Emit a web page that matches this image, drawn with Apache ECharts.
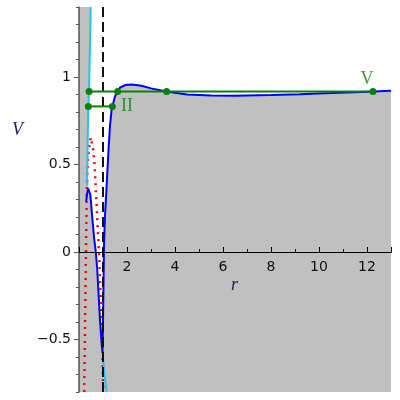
<!DOCTYPE html>
<html>
<head>
<meta charset="utf-8">
<script src="https://cdn.jsdelivr.net/npm/echarts@6/dist/echarts.min.js"></script>
<style>
  html, body { margin: 0; padding: 0; background: #fff; }
  #chart { width: 400px; height: 400px; }
</style>
</head>
<body>
<div id="chart"></div>
<script>
// effective potential, blue curve: hump near r=0.4, well at r~1, then plateau
const blueCurve = [
  [0.30, 0.29], [0.34, 0.335], [0.38, 0.362], [0.42, 0.37], [0.47, 0.33],
  [0.55, 0.20], [0.63, 0.08], [0.70, 0.0], [0.76, -0.10], [0.82, -0.25],
  [0.88, -0.40], [0.94, -0.52], [0.98, -0.57],
  [1.00, -0.40], [1.02, -0.20], [1.04, 0.03], [1.08, 0.20], [1.15, 0.375],
  [1.22, 0.56], [1.29, 0.72], [1.36, 0.815], [1.50, 0.89], [1.71, 0.94],
  [1.92, 0.954], [2.20, 0.957], [2.60, 0.95], [3.00, 0.935], [3.65, 0.917],
  [4.50, 0.900], [5.50, 0.894], [6.50, 0.893], [8.00, 0.897], [9.20, 0.902],
  [10.50, 0.908], [11.50, 0.913], [12.25, 0.917], [13.00, 0.921]
];
const blueWellStart = 3; // index of hump top, where the white region starts

const cyanUpper = [
  [0.49, 1.40], [0.46, 1.20], [0.43, 1.00], [0.42, 0.917], [0.39, 0.832],
  [0.37, 0.70], [0.355, 0.55], [0.345, 0.45], [0.34, 0.38]
];
const cyanLower = [[0.99, -0.59], [1.06, -0.70], [1.15, -0.80]];

const redDotted = [
  [0.22, -0.80], [0.23, -0.65], [0.245, -0.50], [0.26, -0.30], [0.28, -0.10],
  [0.30, 0.10], [0.32, 0.30], [0.33, 0.37], [0.345, 0.44], [0.355, 0.48],
  [0.375, 0.525], [0.40, 0.57], [0.43, 0.61], [0.49, 0.655], [0.55, 0.615],
  [0.60, 0.576], [0.625, 0.533], [0.65, 0.494], [0.67, 0.44], [0.695, 0.375],
  [0.71, 0.33], [0.78, 0.14], [0.85, -0.06], [0.90, -0.25], [0.94, -0.42],
  [0.98, -0.60], [1.01, -0.80]
];

const horizon = [[1, -0.8], [1, 1.4]];
const levelV = [[0.42, 0.917], [1.61, 0.917], [3.65, 0.917], [12.25, 0.917]];
const levelII = [[0.39, 0.832], [1.39, 0.832]];
const levelLabels = [
  { name: 'II', value: [2.0, 0.834] },
  { name: 'V', value: [12.0, 0.986] }
];

const rMin = 0, rMax = 13;
const vMin = -0.8, vMax = 1.4;
const yMajor = [-0.5, 0, 0.5, 1];

// white (allowed) region: right of cyan/blue left wall, above blue curve
const whiteRegion = [
  ...cyanUpper,
  ...blueCurve.slice(blueWellStart),
  [rMax, vMax]
];

const gridTop = 7, gridBottom = 8;
const plotH = 400 - gridTop - gridBottom;
// lift the r axis from the grid bottom up to V = 0
const zeroOffset = -plotH * (0 - vMin) / (vMax - vMin);

const chart = echarts.init(document.getElementById('chart'));
const green = '#0a820a';
const tickFont = { fontFamily: 'DejaVu Sans', fontSize: 14, color: '#111' };
const nameFont = 'italic 18px "Liberation Serif"';

chart.setOption({
  animation: false,
  grid: {
    show: true, left: 79, right: 9, top: gridTop, bottom: gridBottom,
    outerBoundsMode: 'none', containLabel: false,
    backgroundColor: '#c0c0c0', borderWidth: 0
  },
  xAxis: [
    {
      type: 'value', min: rMin, max: rMax, interval: 1, z: 5,
      position: 'bottom', offset: zeroOffset,
      axisLine: { onZero: false, lineStyle: { color: '#000', width: 1 } },
      axisTick: { inside: true, length: 3, lineStyle: { color: '#000' } },
      axisLabel: {
        ...tickFont, margin: 8,
        formatter: (v) => (v !== 0 && v % 2 === 0 ? String(v) : '')
      },
      splitLine: { show: false }
    },
    {
      type: 'value', min: rMin, max: rMax, interval: 2, z: 5,
      position: 'bottom', offset: zeroOffset,
      axisLine: { onZero: false, lineStyle: { color: '#000' } },
      axisTick: { inside: true, length: 5, lineStyle: { color: '#000' } },
      axisLabel: { show: false },
      splitLine: { show: false }
    }
  ],
  yAxis: [
    {
      type: 'value', min: vMin, max: vMax, z: 5,
      axisLine: { onZero: false, lineStyle: { color: '#555', width: 1.5 } },
      axisTick: { customValues: yMajor, length: 5, lineStyle: { color: '#555' } },
      axisLabel: {
        ...tickFont, margin: 8, customValues: yMajor,
        formatter: (v) => (v < 0 ? '\u2212' + Math.abs(v) : String(v))
      },
      splitLine: { show: false }
    },
    {
      type: 'value', min: vMin, max: vMax, interval: 0.1, position: 'left', z: 5,
      axisLine: { show: false, onZero: false },
      axisTick: { length: 3, lineStyle: { color: '#555' } },
      axisLabel: { show: false },
      splitLine: { show: false }
    }
  ],
  graphic: [
    {
      type: 'text', left: 12, top: 121,
      style: { text: 'V', font: nameFont, fill: '#1a1a6a' }
    },
    {
      type: 'text', left: 231, top: 276,
      style: { text: 'r', font: nameFont, fill: '#1a1a6a' }
    }
  ],
  series: [
    {
      type: 'custom', silent: true, z: 1,
      data: [[0, 0]],
      renderItem: (params, api) => ({
        type: 'polygon',
        shape: { points: whiteRegion.map((p) => api.coord(p)) },
        style: { fill: '#fff' }
      })
    },
    {
      type: 'line', data: redDotted, showSymbol: false, symbol: 'none', z: 3,
      lineStyle: { color: '#ff0000', width: 2.5, type: [2, 5], cap: 'butt' }
    },
    {
      type: 'line', data: blueCurve, showSymbol: false, symbol: 'none', z: 4,
      lineStyle: { color: '#0000ff', width: 2 }
    },
    {
      type: 'line', data: cyanUpper, showSymbol: false, symbol: 'none', z: 4,
      lineStyle: { color: '#22c4f2', width: 2 }
    },
    {
      type: 'line', data: cyanLower, showSymbol: false, symbol: 'none', z: 4,
      lineStyle: { color: '#22c4f2', width: 2 }
    },
    {
      type: 'line', data: horizon, showSymbol: false, symbol: 'none', z: 4,
      lineStyle: { color: '#111', width: 2, type: [10, 5] }
    },
    {
      type: 'line', data: levelV, symbol: 'circle', symbolSize: 7, z: 6,
      lineStyle: { color: green, width: 2 }, itemStyle: { color: green }
    },
    {
      type: 'line', data: levelII, symbol: 'circle', symbolSize: 7, z: 6,
      lineStyle: { color: green, width: 2 }, itemStyle: { color: green }
    },
    {
      type: 'scatter', data: levelLabels, symbolSize: 0, z: 6,
      label: {
        show: true, position: 'inside', formatter: '{b}',
        fontFamily: 'Liberation Serif', fontSize: 18, color: green
      }
    }
  ]
});
</script>
</body>
</html>
